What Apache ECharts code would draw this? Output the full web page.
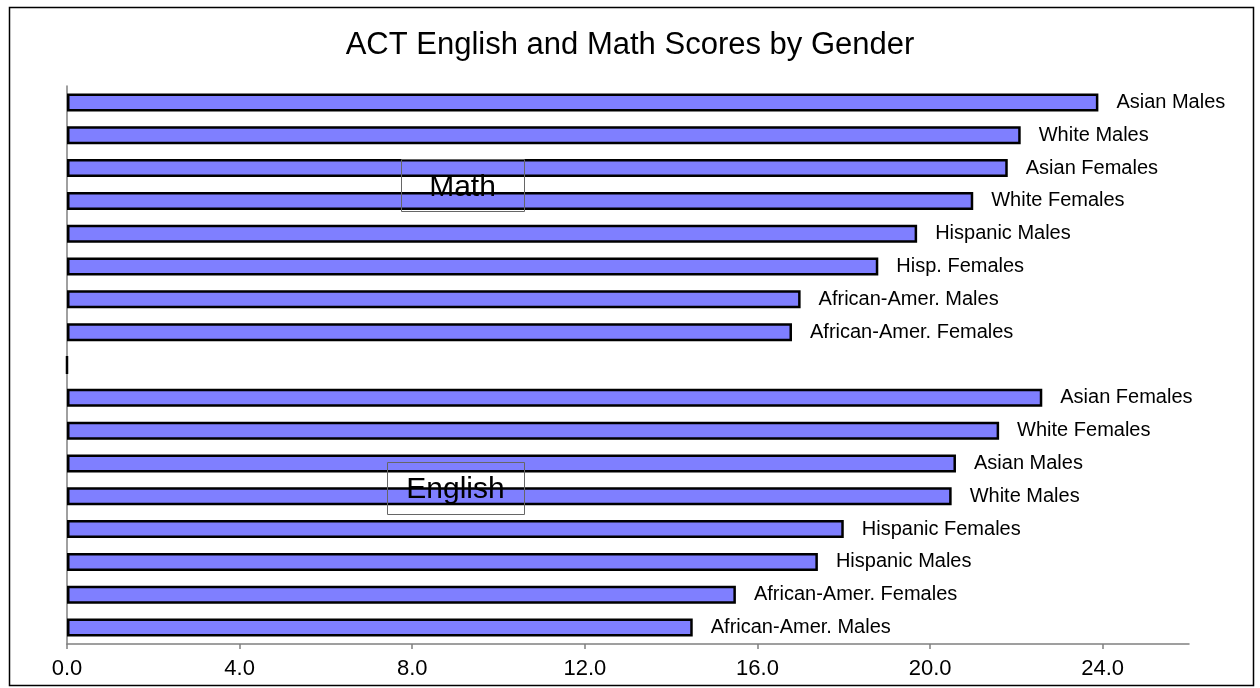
<!DOCTYPE html>
<html>
<head>
<meta charset="utf-8">
<script src="https://cdn.jsdelivr.net/npm/echarts@6/dist/echarts.min.js"></script>
<style>
  html, body { margin: 0; padding: 0; background: #fff; }
  #chart { width: 1260px; height: 688px; }
</style>
</head>
<body>
<div id="chart"></div>
<script>
// rows top to bottom: Math group, empty spacer row, English group
const categories = [
  'Asian Males', 'White Males', 'Asian Females', 'White Females',
  'Hispanic Males', 'Hisp. Females', 'African-Amer. Males', 'African-Amer. Females',
  '',
  'Asian Females', 'White Females', 'Asian Males', 'White Males',
  'Hispanic Females', 'Hispanic Males', 'African-Amer. Females', 'African-Amer. Males'
]
const scores = [
  23.9, 22.1, 21.8, 21.0, 19.7, 18.8, 17.0, 16.8,
  0,
  22.6, 21.6, 20.6, 20.5, 18.0, 17.4, 15.5, 14.5
]
const xTicks = [0, 4, 8, 12, 16, 20, 24]

const chart = echarts.init(document.getElementById('chart'))

const font = '"Liberation Sans", Arial, sans-serif'

const option = {
  animation: false,
  textStyle: { fontFamily: font },
  title: {
    text: 'ACT English and Math Scores by Gender',
    left: 'center',
    top: 25,
    textStyle: { fontSize: 31, fontWeight: 'normal', color: '#000', fontFamily: font }
  },
  grid: {
    left: 67,
    right: 71,
    top: 86,
    bottom: 44
  },
  xAxis: {
    type: 'value',
    min: 0,
    max: 26,
    interval: 4,
    axisLine: { show: true, lineStyle: { color: '#808080', width: 1.5 } },
    axisTick: {
      show: true,
      length: 5,
      customValues: xTicks,
      lineStyle: { color: '#808080', width: 1.5 }
    },
    axisLabel: {
      customValues: xTicks,
      margin: 14,
      fontSize: 22,
      color: '#000',
      formatter: v => v.toFixed(1)
    },
    splitLine: { show: false }
  },
  yAxis: {
    type: 'category',
    inverse: true,
    data: categories,
    axisLine: { show: true, lineStyle: { color: '#808080', width: 1.5 } },
    axisTick: { show: false },
    axisLabel: { show: false }
  },
  series: [
    {
      type: 'bar',
      data: scores,
      barWidth: 18,
      itemStyle: { color: '#7f7fff', borderColor: '#000', borderWidth: 2.5 },
      label: {
        show: true,
        position: 'right',
        distance: 18,
        fontSize: 20,
        color: '#000',
        formatter: p => categories[p.dataIndex]
      }
    }
  ],
  graphic: [
    {
      type: 'rect',
      left: 7, top: 5,
      shape: { width: 1244, height: 678 },
      style: { fill: 'none', stroke: '#000', lineWidth: 1.5 },
      silent: true,
      z: 100
    },
    {
      type: 'group',
      left: 399, top: 157,
      z: 100,
      children: [
        { type: 'rect', z: 100, shape: { width: 123, height: 52 }, style: { fill: 'none', stroke: '#666', lineWidth: 1 } },
        { type: 'text', z: 101, x: 61, y: 28, style: { text: 'Math', fontSize: 30, fill: '#000', align: 'center', verticalAlign: 'middle', fontFamily: font } }
      ]
    },
    {
      type: 'group',
      left: 385, top: 460,
      z: 100,
      children: [
        { type: 'rect', z: 100, shape: { width: 137, height: 52 }, style: { fill: 'none', stroke: '#666', lineWidth: 1 } },
        { type: 'text', z: 101, x: 68, y: 27, style: { text: 'English', fontSize: 30, fill: '#000', align: 'center', verticalAlign: 'middle', fontFamily: font } }
      ]
    }
  ]
}

chart.setOption(option)
</script>
</body>
</html>
